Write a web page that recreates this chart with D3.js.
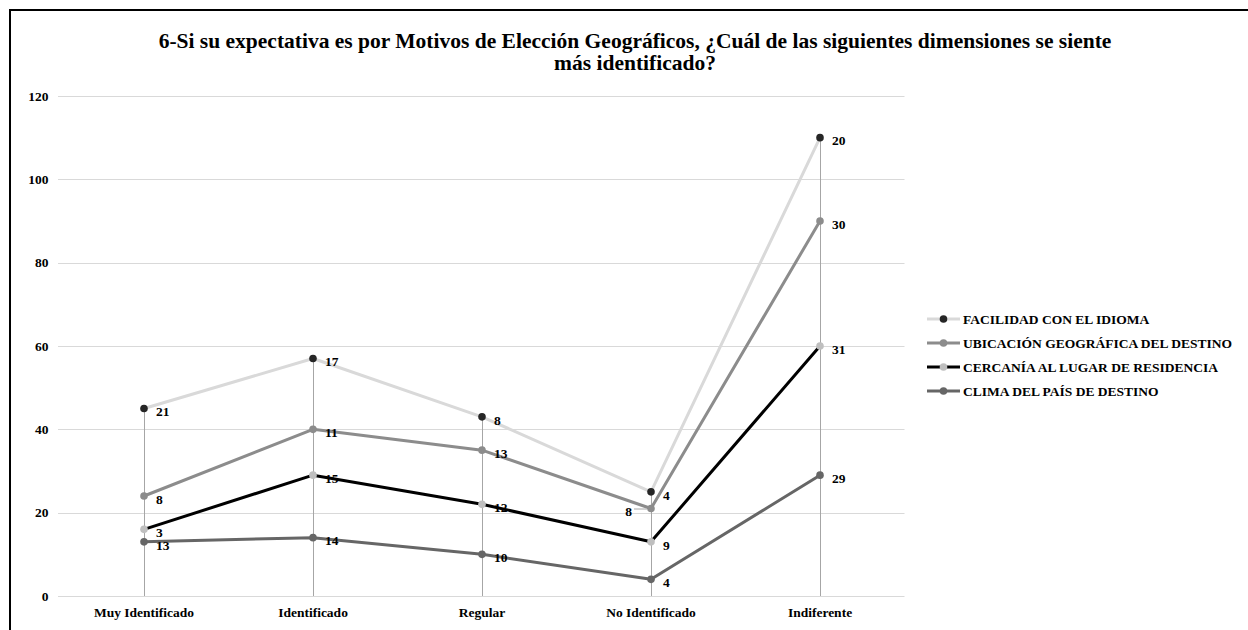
<!DOCTYPE html>
<html><head><meta charset="utf-8">
<script src="https://cdn.jsdelivr.net/npm/d3@7"></script>
<style>body{margin:0;background:#fff}svg{display:block}text{font-family:"Liberation Serif","Times New Roman",serif;font-weight:bold;fill:#000}</style>
</head><body><svg id="c" width="1248" height="630"></svg>
<script>
const categories = ["Muy Identificado","Identificado","Regular","No Identificado","Indiferente"];
const seriesNames = ["CLIMA DEL PAÍS DE DESTINO","CERCANÍA AL LUGAR DE RESIDENCIA","UBICACIÓN GEOGRÁFICA DEL DESTINO","FACILIDAD CON EL IDIOMA"];
const clima = [13,14,10,4,29];
const cercania = [3,15,12,9,31];
const ubicacion = [8,11,13,8,30];
const facilidad = [21,17,8,4,20];
const yTicks = [0,20,40,60,80,100,120];
const titleLines = ["6-Si su expectativa es por Motivos de Elección Geográficos, ¿Cuál de las siguientes dimensiones se siente","más identificado?"];

const values = [clima, cercania, ubicacion, facilidad];
const lineColors = ["#666666","#000000","#8c8c8c","#d9d9d9"];
const markerColors = ["#666666","#bfbfbf","#8c8c8c","#262626"];
const FS = 13.5;

const svg = d3.select("#c");
svg.append("rect").attr("x",10).attr("y",10).attr("width",1260).attr("height",640)
  .attr("fill","#fff").attr("stroke","#000").attr("stroke-width",2);

svg.append("g").selectAll("text").data(titleLines).join("text")
  .attr("x",635).attr("y",(d,i)=>48+i*22).attr("text-anchor","middle")
  .style("font-size","21.5px").text(d=>d);

const x = d3.scaleBand().domain(categories).range([59.5,904.5]);
const y = d3.scaleLinear().domain([0,120]).range([596,96]);

const table = categories.map((c,i)=>{const o={cat:c}; seriesNames.forEach((s,j)=>o[s]=values[j][i]); return o;});
const stacked = d3.stack().keys(seriesNames)(table);

// grid
svg.append("g").selectAll("line").data(yTicks).join("line")
  .attr("x1",58).attr("x2",904.5).attr("y1",d=>Math.round(y(d))+0.5).attr("y2",d=>Math.round(y(d))+0.5)
  .attr("stroke","#d9d9d9").attr("stroke-width",1);
const yAxis = svg.append("g").attr("transform","translate(59.5,0)")
  .call(d3.axisLeft(y).tickValues(yTicks).tickSize(0).tickPadding(11));
yAxis.select(".domain").remove();
yAxis.selectAll("text").style("font-size",FS+"px").attr("fill","#000");

const xAxis = svg.append("g").attr("transform","translate(0,596)")
  .call(d3.axisBottom(x).tickSize(0).tickPadding(11));
xAxis.select(".domain").remove();
xAxis.selectAll("text").style("font-size",FS+"px").attr("fill","#000");

// drop lines
const topSeries = stacked[stacked.length-1];
svg.append("g").selectAll("line").data(topSeries).join("line")
  .attr("x1",d=>Math.round(x(d.data.cat)+x.bandwidth()/2)+0.5).attr("x2",d=>Math.round(x(d.data.cat)+x.bandwidth()/2)+0.5)
  .attr("y1",d=>y(d[1])).attr("y2",y(0)).attr("stroke","#a6a6a6").attr("stroke-width",1);

const cx = d=>x(d.data.cat)+x.bandwidth()/2;
const line = d3.line().x(cx).y(d=>y(d[1]));
stacked.forEach((s,j)=>{
  svg.append("path").datum(s).attr("d",line).attr("fill","none")
    .attr("stroke",lineColors[j]).attr("stroke-width",3).attr("stroke-linejoin","round");
});
stacked.forEach((s,j)=>{
  svg.append("g").selectAll("circle").data(s).join("circle")
    .attr("cx",cx).attr("cy",d=>y(d[1])).attr("r",3.8).attr("fill",markerColors[j]);
});
// labels
stacked.forEach((s,j)=>{
  const g = svg.append("g");
  s.forEach((d,i)=>{
    const left = (j===2 && i===3);
    const px = cx(d), py = y(d[1]);
    if(left){
      g.append("line").attr("x1",px-17).attr("x2",px-4).attr("y1",py+0.5).attr("y2",py+0.5).attr("stroke","#a6a6a6");
      g.append("text").attr("x",px-19).attr("y",py+3).attr("dy","0.35em").attr("text-anchor","end").style("font-size",FS+"px").text(values[j][i]);
    } else {
      g.append("text").attr("x",px+12).attr("y",py+3).attr("dy","0.35em").style("font-size",FS+"px").text(values[j][i]);
    }
  });
});

// legend
const legendOrder = [3,2,1,0];
const lg = svg.append("g");
legendOrder.forEach((j,k)=>{
  const ly = 319 + k*24;
  lg.append("line").attr("x1",927).attr("x2",960).attr("y1",ly).attr("y2",ly).attr("stroke",lineColors[j]).attr("stroke-width",3);
  lg.append("circle").attr("cx",943.5).attr("cy",ly).attr("r",3.8).attr("fill",markerColors[j]);
  lg.append("text").attr("x",963).attr("y",ly).attr("dy","0.35em").style("font-size",FS+"px").text(seriesNames[j]);
});
</script></body></html>
